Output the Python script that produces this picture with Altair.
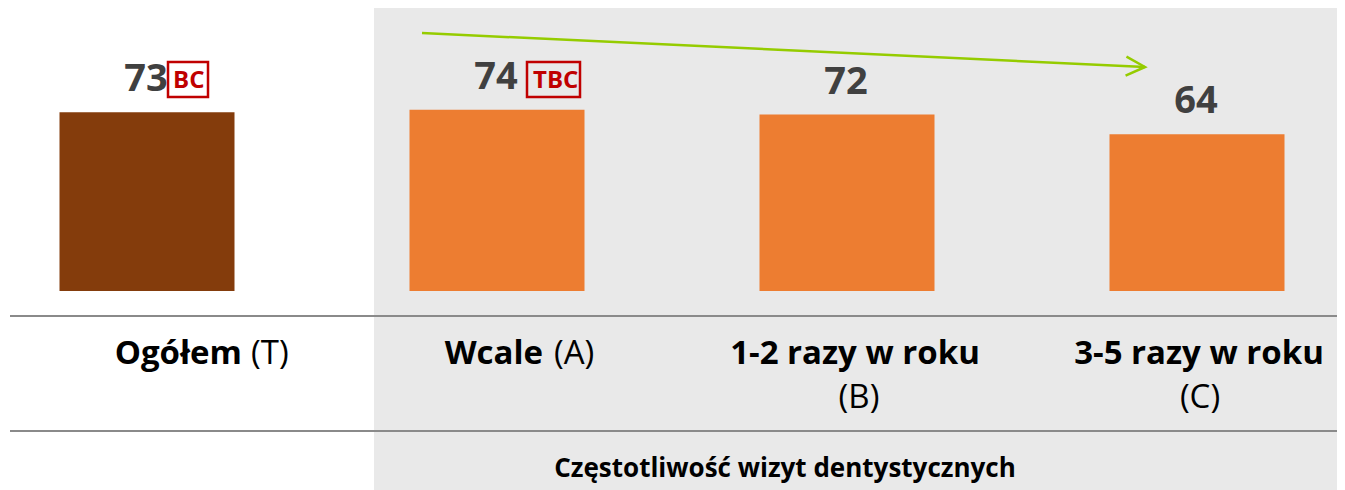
import altair as alt
import pandas as pd

# ---------------- data ----------------
categories = ["Ogółem", "Wcale", "1-2 razy w roku", "3-5 razy w roku"]
codes = ["(T)", "(A)", "(B)", "(C)"]
values = [73, 74, 72, 64]
sig_letters = ["BC", "TBC", "", ""]
groups = ["total", "freq", "freq", "freq"]
axis_title = "Częstotliwość wizyt dentystycznych"

df = pd.DataFrame({"cat": categories, "code": codes, "value": values,
                   "sig": sig_letters, "group": groups})

# ---------------- layout / style ----------------
W, H = 1329, 482
Y0, PXU = 283, 2.45          # pixel of value 0 and pixels per unit
FONT = "Open Sans"
PANEL = "#e9e9e9"
GREEN = "#95cc00"
RED = "#c00000"
NUMC = "#404040"

xscale = alt.Scale(domain=categories, range=[-36, 1364], paddingInner=0.5, paddingOuter=0.25)
yscale = alt.Scale(domain=[0, 100], range=[Y0, Y0 - 100 * PXU])
X = alt.X("cat:N", scale=xscale, axis=None, sort=categories)
Y = alt.Y("value:Q", scale=yscale, axis=None)

one = alt.Data(values=[{"k": 1}])
base = alt.Chart(df)

panel = alt.Chart(one).mark_rect(color=PANEL).encode(
    x=alt.value(366), x2=alt.value(W), y=alt.value(0), y2=alt.value(H))
rule1 = alt.Chart(one).mark_rule(color="#8a8a8a", strokeWidth=2).encode(
    x=alt.value(2), x2=alt.value(W), y=alt.value(308))
rule2 = alt.Chart(one).mark_rule(color="#8a8a8a", strokeWidth=2).encode(
    x=alt.value(2), x2=alt.value(W), y=alt.value(423))

bars = base.mark_bar().encode(
    x=X, y=Y,
    color=alt.Color("group:N", scale=alt.Scale(domain=["total", "freq"],
                                               range=["#843c0c", "#ed7d31"]), legend=None))

nums = base.mark_text(font=FONT, fontSize=38, fontWeight="bold", color=NUMC,
                      baseline="alphabetic", align="center", dy=-21, dx=-1).encode(
    x=X, y=Y, text="value:Q")

layers = [panel, rule1, rule2, bars, nums]

# significance boxes: (box left, box right, letters left) relative to bar centre
sig_layout = {"BC": (21, 61, 26), "TBC": (30, 83, 36)}
BOX_TOP, BOX_BOT, LET_BASE = 54, 89, 80
S = 50.0  # sqrt(size)/2 for size 10000
for c, v, s in zip(categories, values, sig_letters):
    if not s:
        continue
    l, r, lx = sig_layout[s]
    ay = Y0 - v * PXU
    t, b = BOX_TOP - ay, BOX_BOT - ay
    path = (f"M{l/S:.4f},{t/S:.4f}L{r/S:.4f},{t/S:.4f}"
            f"L{r/S:.4f},{b/S:.4f}L{l/S:.4f},{b/S:.4f}Z")
    box = base.transform_filter(alt.datum.cat == c).mark_point(
        shape=path, size=10000, filled=False, stroke=RED, strokeWidth=2.5,
        opacity=1).encode(x=X, y=Y)
    let = base.transform_filter(alt.datum.cat == c).mark_text(
        font=FONT, fontSize=24, fontWeight="bold", color=RED, align="left",
        baseline="alphabetic", dx=lx, dy=LET_BASE - ay).encode(x=X, y=Y, text="sig:N")
    layers += [box, let]

# category labels
L1, L2 = 356, 400
LF = 33
# Ogółem (T) and Wcale (A): single line, bold word + regular code
single = {"Ogółem": (95, 104), "Wcale": (46, 57)}
double = {"1-2 razy w roku": (8, 12), "3-5 razy w roku": (2, 3)}
for c in categories:
    sub = base.transform_filter(alt.datum.cat == c)
    if c in single:
        dxb, dxr = single[c]
        layers.append(sub.mark_text(font=FONT, fontSize=LF, fontWeight="bold", color="black",
                                    align="right", baseline="alphabetic", dx=dxb).encode(
            x=X, y=alt.value(L1), text="cat:N"))
        layers.append(sub.mark_text(font=FONT, fontSize=LF, fontWeight="normal", color="black",
                                    align="left", baseline="alphabetic", dx=dxr).encode(
            x=X, y=alt.value(L1), text="code:N"))
    else:
        dxb, dxr = double[c]
        layers.append(sub.mark_text(font=FONT, fontSize=LF, fontWeight="bold", color="black",
                                    align="center", baseline="alphabetic", dx=dxb).encode(
            x=X, y=alt.value(L1), text="cat:N"))
        layers.append(sub.mark_text(font=FONT, fontSize=LF, fontWeight="normal", color="black",
                                    align="center", baseline="alphabetic", dx=dxr).encode(
            x=X, y=alt.value(L2), text="code:N"))

# trend arrow
arrow = alt.Chart(one).mark_rule(color=GREEN, strokeWidth=2.5).encode(
    x=alt.value(414), y=alt.value(25), x2=alt.value(1137), y2=alt.value(59))
head = alt.Chart(one).mark_point(shape="M-1,-0.5L0,0L-1,0.5", size=1444, filled=False,
                                 stroke=GREEN, strokeWidth=2.5, angle=2.7, opacity=1).encode(
    x=alt.value(1137), y=alt.value(59))

title = alt.Chart(one).mark_text(font=FONT, fontSize=26, fontWeight="bold", color="black",
                                 align="center", baseline="alphabetic").encode(
    x=alt.value(777), y=alt.value(469), text=alt.value(axis_title))

layers += [arrow, head, title]

chart = alt.layer(*layers).properties(
    width=W, height=H, padding=0, autosize="none", background="white"
).configure_view(stroke=None)

chart.save("out.html", embed_options={"renderer": "svg", "actions": False})
